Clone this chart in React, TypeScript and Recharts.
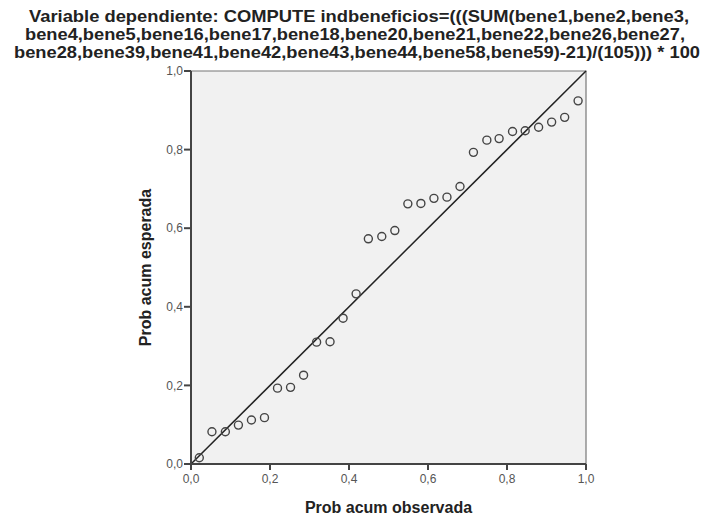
import { ScatterChart, Scatter, XAxis, YAxis, ReferenceLine, ReferenceArea } from 'recharts';

// P-P plot values
const titleLines = [
  'Variable dependiente: COMPUTE indbeneficios=(((SUM(bene1,bene2,bene3,',
  'bene4,bene5,bene16,bene17,bene18,bene20,bene21,bene22,bene26,bene27,',
  'bene28,bene39,bene41,bene42,bene43,bene44,bene58,bene59)-21)/(105))) * 100',
];

const observed = [
  0.021, 0.053, 0.087, 0.12, 0.153, 0.186, 0.219, 0.252, 0.285, 0.318,
  0.352, 0.385, 0.418, 0.449, 0.483, 0.516, 0.549, 0.582, 0.615, 0.648,
  0.681, 0.715, 0.749, 0.78, 0.814, 0.846, 0.88, 0.913, 0.946, 0.98,
];

const expected = [
  0.016, 0.082, 0.082, 0.099, 0.112, 0.118, 0.193, 0.195, 0.226, 0.31,
  0.311, 0.371, 0.433, 0.573, 0.579, 0.594, 0.662, 0.663, 0.676, 0.679,
  0.706, 0.793, 0.824, 0.828, 0.846, 0.848, 0.857, 0.87, 0.882, 0.924,
];

const ticks = [0, 0.2, 0.4, 0.6, 0.8, 1];

const points = observed.map((x, i) => ({ x, y: expected[i] }));

const font = "'Liberation Sans', Arial, sans-serif";
const fmt = (v: number) => v.toFixed(1).replace('.', ',');

// title line layout (center x, baseline y, width)
const titleBox = [
  { cx: 359, y: 22, w: 660 },
  { cx: 355, y: 40, w: 660 },
  { cx: 357, y: 58, w: 686 },
];

const OpenCircle = (props: any) => (
  <circle cx={props.cx} cy={props.cy} r={4} fill="none" stroke="#444" strokeWidth={1.4} />
);

export default function App() {
  return (
    <div style={{ position: 'absolute', left: 0, top: 0, width: 703, height: 516, background: '#fff' }}>
      <ScatterChart
        width={703}
        height={516}
        margin={{ top: 71, right: 117, left: 131, bottom: 0 }}
        style={{ fontFamily: font }}
      >
        <XAxis
          type="number"
          dataKey="x"
          domain={[0, 1]}
          ticks={ticks}
          tickFormatter={fmt}
          height={52}
          stroke="#444"
          strokeWidth={2}
          tickSize={6}
          tickMargin={4}
          tick={{ fill: '#555', fontSize: 12 }}
          label={{
            value: 'Prob acum observada',
            position: 'insideBottom',
            offset: 3,
            style: { fill: '#222', fontSize: 16, fontWeight: 'bold' },
          }}
        />
        <YAxis
          type="number"
          dataKey="y"
          domain={[0, 1]}
          ticks={ticks}
          tickFormatter={fmt}
          width={60}
          stroke="#444"
          strokeWidth={2}
          tickSize={7}
          tickMargin={1}
          tick={{ fill: '#555', fontSize: 12 }}
          label={{
            value: 'Prob acum esperada',
            angle: -90,
            position: 'insideLeft',
            offset: 14,
            style: { fill: '#222', fontSize: 16, fontWeight: 'bold', textAnchor: 'middle' },
          }}
        />
        <ReferenceArea x1={0} x2={1} y1={0} y2={1} fill="#f1f1f1" fillOpacity={1} stroke="#777" strokeWidth={1.2} />
        <ReferenceLine
          segment={[{ x: 0, y: 0 }, { x: 1, y: 1 }]}
          stroke="#222"
          strokeWidth={1.5}
        />
        <Scatter data={points} shape={OpenCircle} isAnimationActive={false} />
      </ScatterChart>
      <svg width={703} height={68} style={{ position: 'absolute', left: 0, top: 0, pointerEvents: 'none' }}>
        {titleLines.map((t, i) => (
          <text
            key={i}
            x={titleBox[i].cx}
            y={titleBox[i].y}
            textAnchor="middle"
            textLength={titleBox[i].w}
            lengthAdjust="spacingAndGlyphs"
            fontFamily={font}
            fontWeight="bold"
            fontSize={17}
            fill="#222"
          >
            {t}
          </text>
        ))}
      </svg>
    </div>
  );
}
